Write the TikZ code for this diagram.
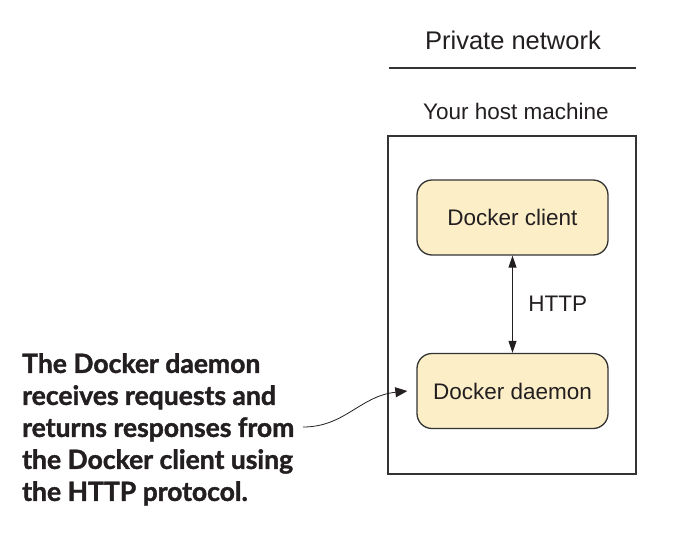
\documentclass[tikz,border=0pt]{standalone}
\usepackage{fontspec}
\setmainfont{Liberation Sans}
\newfontfamily\notefont{Lato}[BoldFeatures={FakeBold=1.5}]
\usetikzlibrary{arrows.meta}

\definecolor{ink}{HTML}{231F20}
\definecolor{boxfill}{HTML}{FCEFC8}
\definecolor{boxline}{HTML}{333333}

\begin{document}
\begin{tikzpicture}[
    x=1pt, y=-1pt,
    lbl/.style={text=ink, font=\fontsize{22.5}{27}\selectfont},
    proc/.style={rectangle, rounded corners=15pt, draw=boxline, line width=1.3pt, fill=boxfill, minimum width=191, minimum height=75, text=ink, font=\fontsize{22.5}{27}\selectfont},
    relationship/.style={{Triangle[length=12pt,width=8pt]}-{Triangle[length=12pt,width=8pt]}, line width=1pt, draw=ink},
    callout/.style={-{Triangle[length=12pt,width=10pt]}, line width=0.8pt, draw=ink}
]
\useasboundingbox (0,0) rectangle (681,536);

% Private network
\node[lbl, font=\fontsize{25.5}{30}\selectfont] (privnet) at (513,40) {Private network};
\coordinate (netl) at (389,68);
\coordinate (netr) at (636,68);
\draw[line width=1.2pt, draw=boxline] (netl) -- (netr);

% Host machine
\node[lbl] (host) at (516,111) {Your host machine};
\node[rectangle, draw=boxline, line width=1.5pt, minimum width=248, minimum height=338] (machine) at (512,305) {};

% Docker client / daemon
\node[proc] (client) at (512.5,217.5) {Docker client};
\node[proc] (daemon) at (512.5,391) {Docker daemon};
\draw[relationship] (client) -- node[lbl, right=12pt] (http) {HTTP} (daemon);

% Note
\node[anchor=north west, align=left, inner sep=0pt, text=ink, font=\notefont\bfseries\fontsize{26.5}{32}\selectfont] (note) at (22,353) {The Docker daemon\\receives requests and\\returns responses from\\the Docker client using\\the HTTP protocol.};
\coordinate (notend) at (303,427);
\draw[callout] (notend) .. controls (345,427) and (360,396) .. ([xshift=-9pt]daemon.west);

\end{tikzpicture}
\end{document}
